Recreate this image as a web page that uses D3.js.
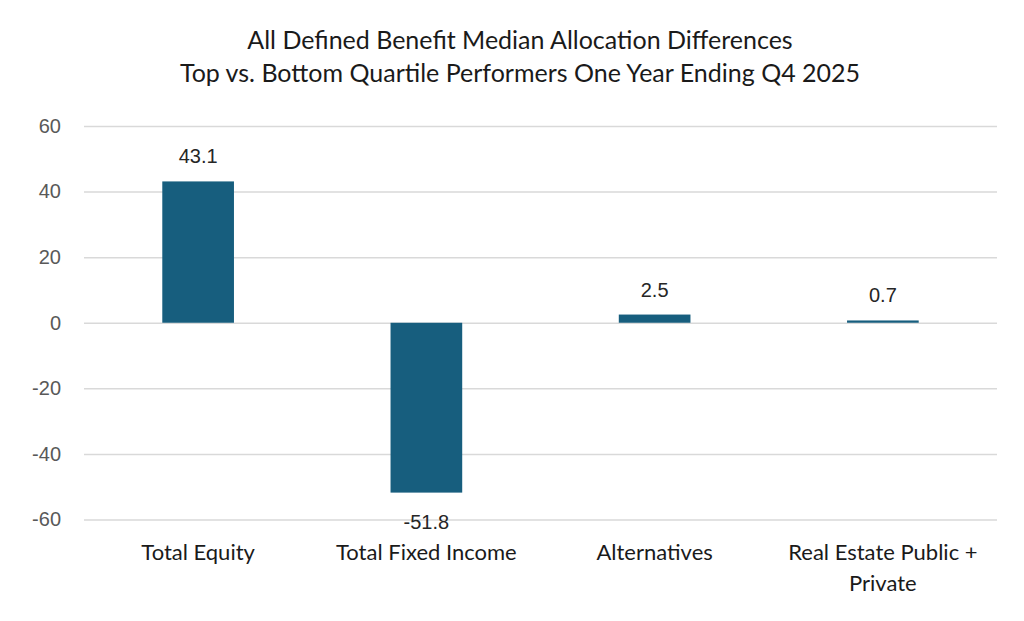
<!DOCTYPE html>
<html>
<head>
<meta charset="utf-8">
<script src="https://cdn.jsdelivr.net/npm/d3@7"></script>
<style>
  body { margin: 0; background: #fff; }
  svg { display: block; }
</style>
</head>
<body>
<svg id="chart"></svg>
<script>
// data
const categories = ['Total Equity', 'Total Fixed Income', 'Alternatives', 'Real Estate Public + Private'];
const values = [43.1, -51.8, 2.5, 0.7];
const yTicks = [-60, -40, -20, 0, 20, 40, 60];
const titleLines = [
  'All Defined Benefit Median Allocation Differences',
  'Top vs. Bottom Quartile Performers One Year Ending Q4 2025'
];

const width = 1024, height = 621;
const margin = { top: 126, right: 27, bottom: 101.5, left: 84 };
const innerW = width - margin.left - margin.right;
const innerH = height - margin.top - margin.bottom;

const svg = d3.select('#chart')
    .attr('width', width)
    .attr('height', height);

// title
svg.append('g')
  .selectAll('text')
  .data(titleLines)
  .join('text')
    .attr('x', 520)
    .attr('y', (d, i) => 49 + i * 33)
    .attr('text-anchor', 'middle')
    .attr('font-family', 'Lato, "Noto Sans", sans-serif')
    .attr('font-size', 25)
    .attr('fill', '#1a1a1a')
    .text(d => d);

const chart = svg.append('g')
    .attr('transform', 'translate(' + margin.left + ',' + margin.top + ')');

const x = d3.scaleBand()
    .domain(categories)
    .range([0, innerW])
    .paddingInner(0.686)
    .paddingOuter(0.343);

const y = d3.scaleLinear()
    .domain([-60, 60])
    .range([innerH, 0]);

// gridlines + y labels
const yAxis = d3.axisLeft(y)
    .tickValues(yTicks)
    .tickFormat(d => String(d))
    .tickSize(-innerW)
    .tickPadding(23);

chart.append('g')
    .attr('class', 'y axis')
    .call(yAxis)
    .call(g => g.select('.domain').remove())
    .call(g => g.selectAll('.tick line')
        .attr('stroke', '#d9d9d9')
        .attr('stroke-width', 1.5))
    .call(g => g.selectAll('.tick text')
        .attr('font-family', '"Liberation Sans", Arial, sans-serif')
        .attr('font-size', 20)
        .attr('fill', '#595959'));

// bars
chart.append('g')
  .selectAll('rect')
  .data(values)
  .join('rect')
    .attr('x', (d, i) => x(categories[i]))
    .attr('width', x.bandwidth())
    .attr('y', d => y(Math.max(0, d)))
    .attr('height', d => Math.abs(y(d) - y(0)))
    .attr('fill', '#175e7e');

// data labels
chart.append('g')
  .selectAll('text')
  .data(values)
  .join('text')
    .attr('x', (d, i) => x(categories[i]) + x.bandwidth() / 2)
    .attr('y', d => d >= 0 ? y(d) - 18 : y(d) + 36)
    .attr('text-anchor', 'middle')
    .attr('font-family', '"Liberation Sans", Arial, sans-serif')
    .attr('font-size', 20)
    .attr('fill', '#262626')
    .text(d => d.toFixed(1));

// category labels (wrapped like the original)
const catLines = d => d === 'Real Estate Public + Private' ? ['Real Estate Public +', 'Private'] : [d];

chart.append('g')
  .selectAll('text')
  .data(categories)
  .join('text')
    .attr('x', d => x(d) + x.bandwidth() / 2)
    .attr('y', innerH + 40)
    .attr('text-anchor', 'middle')
    .attr('font-family', 'Lato, "Noto Sans", sans-serif')
    .attr('font-size', 22)
    .attr('fill', '#1a1a1a')
  .selectAll('tspan')
  .data(d => catLines(d))
  .join('tspan')
    .attr('x', function () { return this.parentNode.getAttribute('x'); })
    .attr('dy', (d, i) => i === 0 ? 0 : 31)
    .text(d => d);
</script>
</body>
</html>
